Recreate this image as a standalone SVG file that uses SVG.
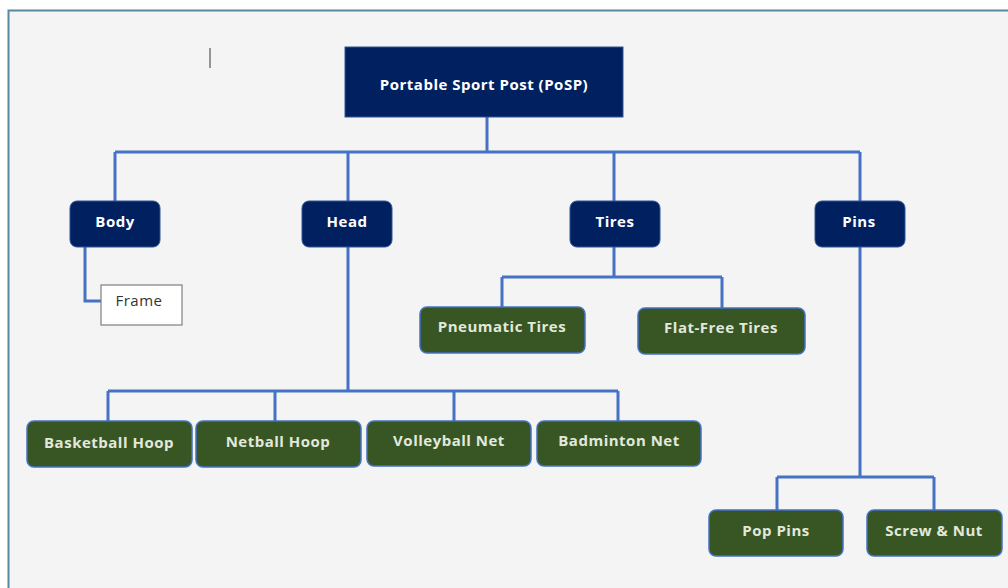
<svg xmlns="http://www.w3.org/2000/svg" width="1008" height="588" viewBox="0 0 1008 588">
<defs>
<style>
.navy{fill:#002060;stroke:#2f5597;stroke-width:1}
.green{fill:#375623;stroke:#4472c4;stroke-width:1.5}
.frame{fill:#ffffff;stroke:#7f7f7f;stroke-width:1.2}
.conn{fill:none;stroke:#4472c4;stroke-width:3}
text{font-family:"Open Sans","Liberation Sans",Arial,sans-serif;font-weight:bold;font-size:15px;letter-spacing:0.5px;text-anchor:middle;dominant-baseline:central}
.lt{fill:#ffffff}
.gt{fill:#e2e8dc}
.dk{fill:#333333;font-weight:normal}
</style>
</defs>
<rect x="0" y="0" width="1008" height="588" fill="#ffffff"/>
<rect x="8.5" y="10.5" width="1010" height="590" fill="#f4f4f4" stroke="#5a88a0" stroke-width="2"/>
<line x1="210" y1="48" x2="210" y2="68" stroke="#555555" stroke-width="1.2"/>
<g id="connectors">
<path class="conn" d="M487 117V152M115 152H860M115 152V201M348 152V201M614 152V201M860 152V201"/>
<path class="conn" d="M85 247V301H101"/>
<path class="conn" d="M348 247V391M108 391H618M108 391V421M275 391V421M454 391V421M618 391V421"/>
<path class="conn" d="M614 247V277M502 277H722M502 277V307M722 277V308"/>
<path class="conn" d="M860 247V477M777 477H934M777 477V510M934 477V510"/>
</g>
<g id="root"><rect class="navy" x="345" y="47" width="278" height="70"/><text class="lt" x="484" y="84">Portable Sport Post (PoSP)</text></g>
<g id="body"><rect class="navy" x="70" y="201" width="90" height="46" rx="7"/><text class="lt" x="115" y="221">Body</text></g>
<g id="head"><rect class="navy" x="302" y="201" width="90" height="46" rx="7"/><text class="lt" x="347" y="221">Head</text></g>
<g id="tires"><rect class="navy" x="570" y="201" width="90" height="46" rx="7"/><text class="lt" x="615" y="221">Tires</text></g>
<g id="pins"><rect class="navy" x="815" y="201" width="90" height="46" rx="7"/><text class="lt" x="859" y="221">Pins</text></g>
<g id="frame"><rect class="frame" x="101" y="285" width="81" height="40"/><text class="dk" x="139" y="300">Frame</text></g>
<g id="pneumatic"><rect class="green" x="420" y="307" width="165" height="46" rx="7"/><text class="gt" x="502" y="326">Pneumatic Tires</text></g>
<g id="flatfree"><rect class="green" x="638" y="308" width="167" height="46" rx="7"/><text class="gt" x="721" y="327">Flat-Free Tires</text></g>
<g id="basketball"><rect class="green" x="27" y="421" width="165" height="46" rx="7"/><text class="gt" x="109" y="442">Basketball Hoop</text></g>
<g id="netball"><rect class="green" x="196" y="421" width="165" height="46" rx="7"/><text class="gt" x="278" y="441">Netball Hoop</text></g>
<g id="volleyball"><rect class="green" x="367" y="421" width="164" height="45" rx="7"/><text class="gt" x="449" y="440">Volleyball Net</text></g>
<g id="badminton"><rect class="green" x="537" y="421" width="164" height="45" rx="7"/><text class="gt" x="619" y="440">Badminton Net</text></g>
<g id="poppins"><rect class="green" x="709" y="510" width="134" height="46" rx="7"/><text class="gt" x="776" y="530">Pop Pins</text></g>
<g id="screwnut"><rect class="green" x="867" y="510" width="135" height="46" rx="7"/><text class="gt" x="934" y="530">Screw &amp; Nut</text></g>
</svg>
